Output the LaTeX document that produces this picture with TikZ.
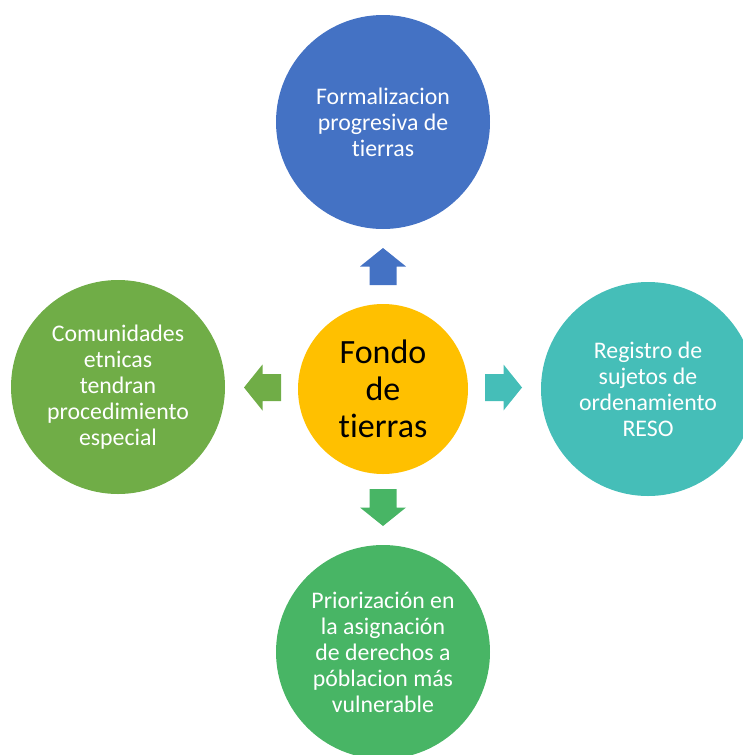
\documentclass[tikz,border=0pt]{standalone}
\usepackage{fontspec}
\setmainfont{Carlito}[Ligatures=NoCommon]
\definecolor{cblue}{HTML}{4472C4}
\definecolor{cgold}{HTML}{FFC000}
\definecolor{cteal}{HTML}{45BEB8}
\definecolor{cgreen}{HTML}{48B565}
\definecolor{colive}{HTML}{70AD47}
\begin{document}
\begin{tikzpicture}[x=1pt,y=-1pt,
  bub/.style={circle,minimum size=214pt,inner sep=0pt,text=white,align=center,
    font=\fontsize{23.8}{26}\selectfont},
  hub/.style={circle,minimum size=170pt,inner sep=0pt,text=black,align=center,
    font=\fontsize{34}{37}\selectfont},
  blockarrow/.pic={\fill[#1] (-18.5,-13.5) -- (0,-13.5) -- (0,-23) -- (18.5,0)
     -- (0,23) -- (0,13.5) -- (-18.5,13.5) -- cycle;}
]
\useasboundingbox (0,0) rectangle (743,755);
\begin{scope}
\clip (0,0) rectangle (743,755);
\node[bub,fill=cblue] (top) at (383,122) {Formalizacion\\progresiva de\\tierras};
\node[bub,fill=cteal] (right) at (648,389) {Registro de\\sujetos de\\ordenamiento\\RESO};
\node[bub,fill=cgreen] (bottom) at (383,652) {Priorización en\\la asignación\\de derechos a\\póblacion más\\vulnerable};
\node[bub,fill=colive] (left) at (118,387) {Comunidades\\etnicas\\tendran\\procedimiento\\especial};
\node[hub,fill=cgold] (hub) at (383,389) {Fondo\\de\\tierras};
\end{scope}
\pic[rotate=90] at (383,266.5) {blockarrow=cblue};
\pic at (503.5,387.5) {blockarrow=cteal};
\pic[rotate=-90] at (383,507.5) {blockarrow=cgreen};
\pic[rotate=180] at (262.5,387.5) {blockarrow=colive};
\end{tikzpicture}
\end{document}
